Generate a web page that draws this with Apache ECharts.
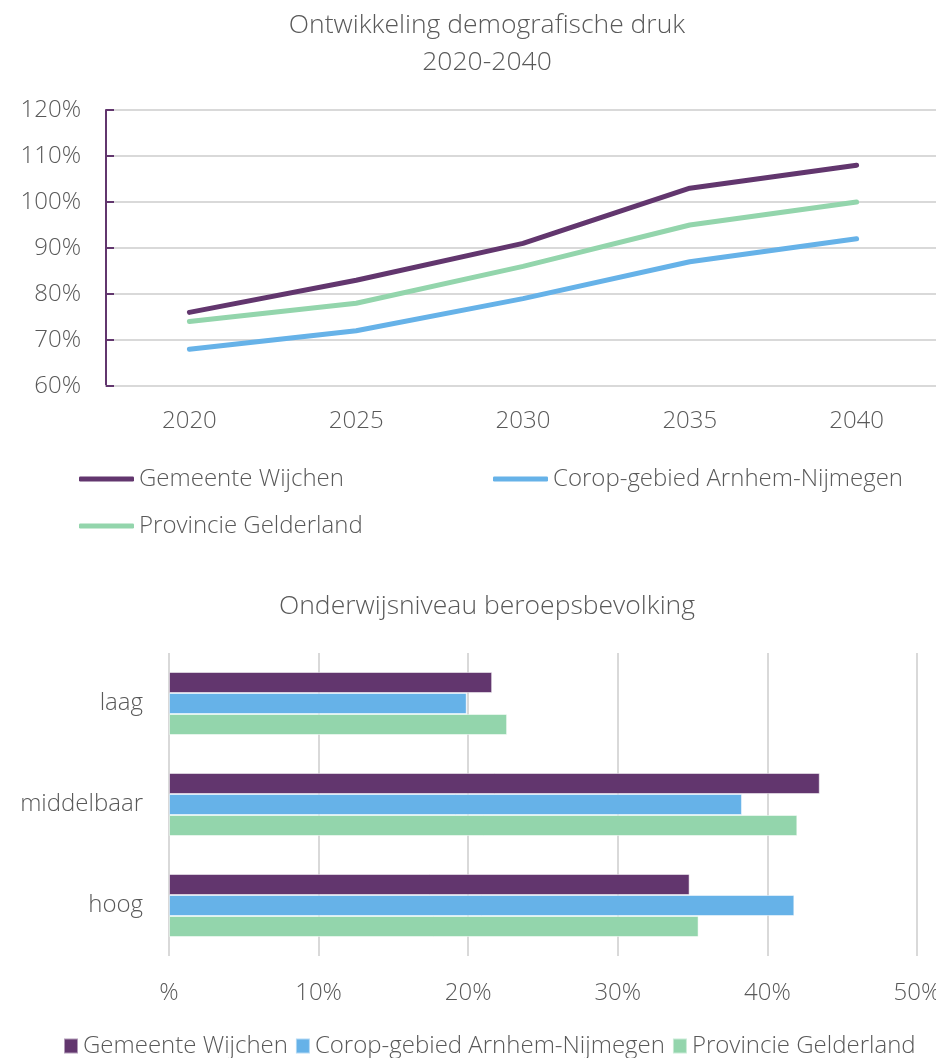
<!DOCTYPE html>
<html>
<head>
<meta charset="utf-8">
<script src="https://cdn.jsdelivr.net/npm/echarts@6/dist/echarts.min.js"></script>
<style>
html,body{margin:0;padding:0;background:#fff;}
#c{width:936px;height:1058px;}
</style>
</head>
<body>
<div id="c"></div>
<script>
// ---- data ----
const years = ['2020', '2025', '2030', '2035', '2040'];
const seriesNames = ['Gemeente Wijchen', 'Corop-gebied Arnhem-Nijmegen', 'Provincie Gelderland'];
const drukWijchen = [76, 83, 91, 103, 108];
const drukCorop = [68, 72, 79, 87, 92];
const drukGelderland = [74, 78, 86, 95, 100];

const niveaus = ['laag', 'middelbaar', 'hoog'];
const onderwijsWijchen = [21.6, 43.5, 34.8];
const onderwijsCorop = [19.9, 38.3, 41.8];
const onderwijsGelderland = [22.6, 42.0, 35.4];

const colors = ['#62366e', '#66b2e8', '#93d5ac'];
const FONT = "'Open Sans', 'Liberation Sans', sans-serif";
const TXT = '#595959';
const ZW = '\u200B'; // zero-width suffix to keep bar series names unique

const chart = echarts.init(document.getElementById('c'), null, {renderer: 'canvas'});
const txt = (size) => ({fontFamily: FONT, fontWeight: 300, fontSize: size, color: TXT});

const option = {
  animation: false,
  backgroundColor: '#fff',
  textStyle: {fontFamily: FONT},
  title: [
    {text: 'Ontwikkeling demografische druk\n2020-2040', left: 482, top: 2, textAlign: 'center',
     textStyle: Object.assign(txt(26.5), {lineHeight: 37})},
    {text: 'Onderwijsniveau beroepsbevolking', left: 482, top: 583, textAlign: 'center',
     textStyle: Object.assign(txt(26.5), {lineHeight: 37})}
  ],
  legend: [
    {data: [seriesNames[0]], left: 79, top: 466, padding: 0, icon: 'roundRect', itemWidth: 55, itemHeight: 5,
     textStyle: Object.assign(txt(24), {lineHeight: 26})},
    {data: [seriesNames[1]], left: 493, top: 466, padding: 0, icon: 'roundRect', itemWidth: 55, itemHeight: 5,
     textStyle: Object.assign(txt(24), {lineHeight: 26})},
    {data: [seriesNames[2]], left: 79, top: 513, padding: 0, icon: 'roundRect', itemWidth: 55, itemHeight: 5,
     textStyle: Object.assign(txt(24), {lineHeight: 26})},
    {data: seriesNames.map(n => n + ZW), left: 63, top: 1033, width: 900, padding: 0, icon: 'rect',
     itemWidth: 14, itemHeight: 15, itemGap: 7,
     textStyle: Object.assign(txt(24), {lineHeight: 26})}
  ],
  grid: [
    {left: 106, top: 110, width: 834, height: 276, containLabel: false, outerBoundsMode: 'none'},
    {left: 169, top: 653, width: 748, height: 303, containLabel: false, outerBoundsMode: 'none'}
  ],
  xAxis: [
    {type: 'category', gridIndex: 0, data: years, boundaryGap: true,
     axisLine: {show: true, lineStyle: {color: '#d9d9d9', width: 2}},
     axisTick: {show: false},
     axisLabel: Object.assign(txt(24), {margin: 23})},
    {type: 'value', gridIndex: 1, min: 0, max: 50, interval: 10,
     axisLine: {show: false}, axisTick: {show: false},
     splitLine: {show: true, lineStyle: {color: '#d9d9d9', width: 2}},
     axisLabel: Object.assign(txt(24), {margin: 25, formatter: v => v === 0 ? '%' : v + '%'})}
  ],
  yAxis: [
    {type: 'value', gridIndex: 0, min: 60, max: 120, interval: 10,
     axisLine: {show: true, lineStyle: {color: '#62366e', width: 2}},
     axisTick: {show: true, inside: true, length: 8, lineStyle: {color: '#62366e', width: 2}},
     splitLine: {show: true, lineStyle: {color: '#d9d9d9', width: 2}},
     axisLabel: Object.assign(txt(24), {margin: 25, formatter: v => v + '%'})},
    {type: 'category', gridIndex: 1, data: niveaus, inverse: true,
     axisLine: {show: false}, axisTick: {show: false},
     axisLabel: Object.assign(txt(24), {margin: 26})}
  ],
  series: [
    {name: seriesNames[0], type: 'line', xAxisIndex: 0, yAxisIndex: 0, data: drukWijchen, symbol: 'none',
     lineStyle: {width: 5, color: colors[0], cap: 'round', join: 'round'}, itemStyle: {color: colors[0]}},
    {name: seriesNames[1], type: 'line', xAxisIndex: 0, yAxisIndex: 0, data: drukCorop, symbol: 'none',
     lineStyle: {width: 5, color: colors[1], cap: 'round', join: 'round'}, itemStyle: {color: colors[1]}},
    {name: seriesNames[2], type: 'line', xAxisIndex: 0, yAxisIndex: 0, data: drukGelderland, symbol: 'none',
     lineStyle: {width: 5, color: colors[2], cap: 'round', join: 'round'}, itemStyle: {color: colors[2]}},
    {name: seriesNames[0] + ZW, type: 'bar', xAxisIndex: 1, yAxisIndex: 1, data: onderwijsWijchen,
     barWidth: 21, barGap: '0%', itemStyle: {color: colors[0], borderColor: 'rgba(255,255,255,0.5)', borderWidth: 1}},
    {name: seriesNames[1] + ZW, type: 'bar', xAxisIndex: 1, yAxisIndex: 1, data: onderwijsCorop,
     barWidth: 21, barGap: '0%', itemStyle: {color: colors[1], borderColor: 'rgba(255,255,255,0.5)', borderWidth: 1}},
    {name: seriesNames[2] + ZW, type: 'bar', xAxisIndex: 1, yAxisIndex: 1, data: onderwijsGelderland,
     barWidth: 21, barGap: '0%', itemStyle: {color: colors[2], borderColor: 'rgba(255,255,255,0.5)', borderWidth: 1}}
  ]
};
chart.setOption(option);
</script>
</body>
</html>
